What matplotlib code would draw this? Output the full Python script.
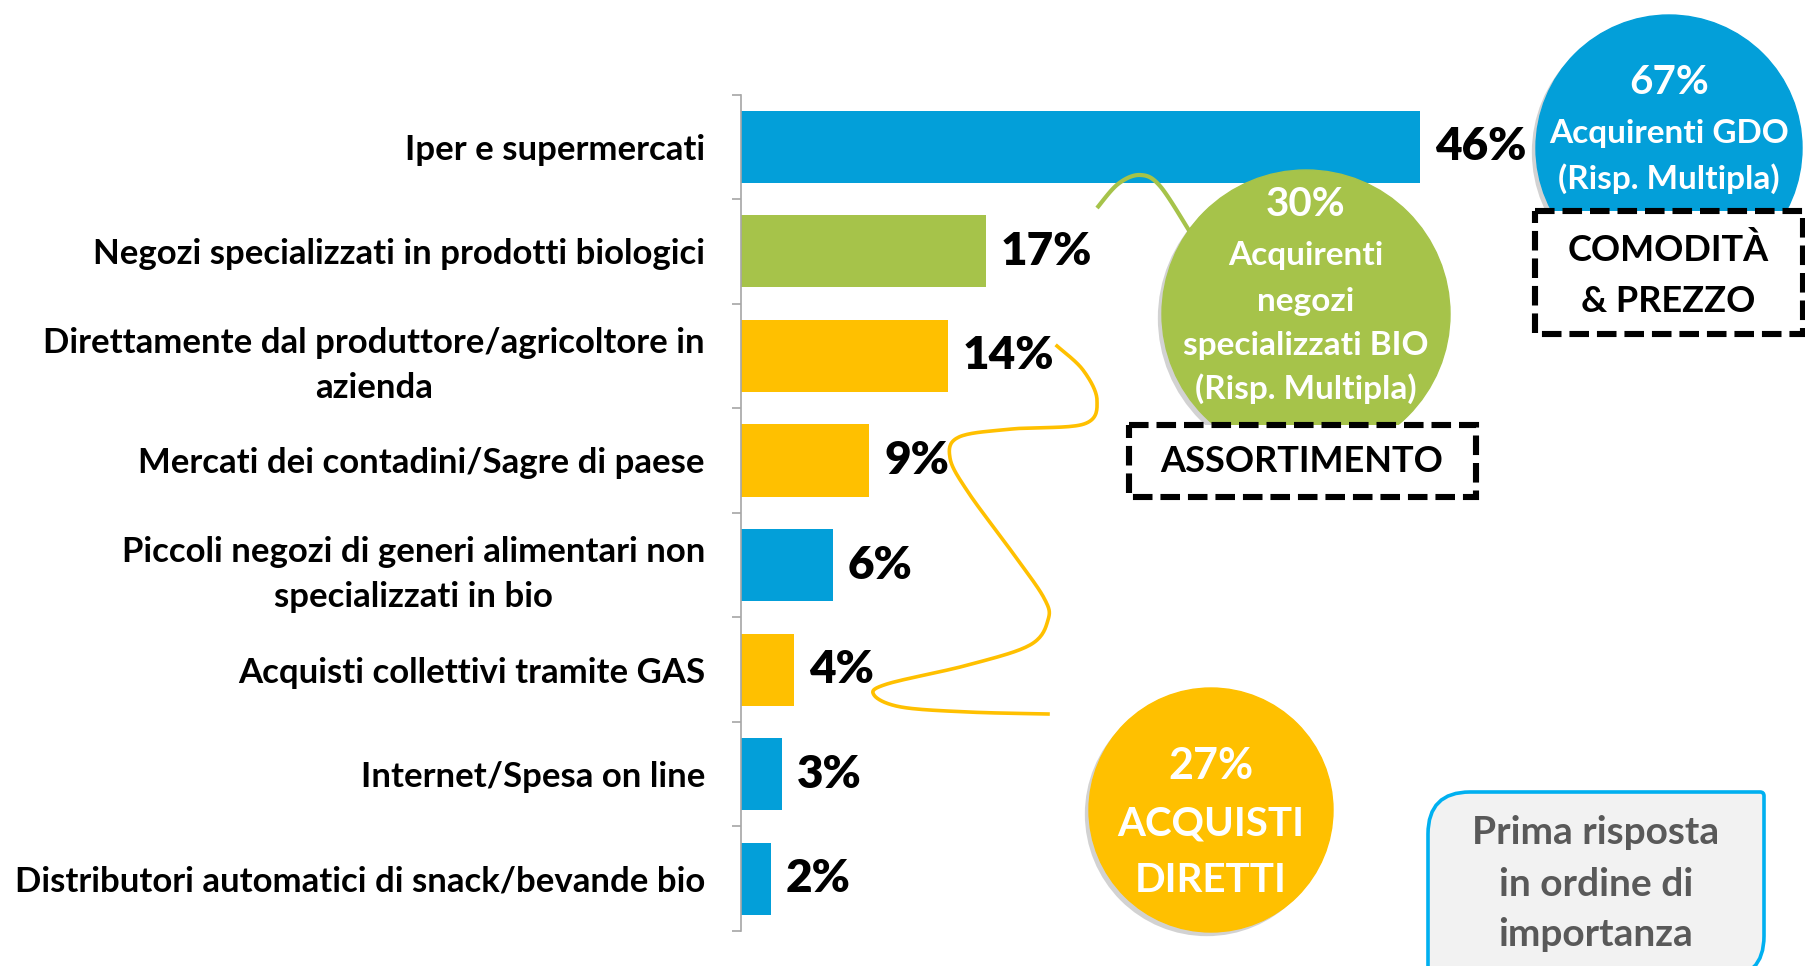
import matplotlib
matplotlib.use("Agg")
import matplotlib.pyplot as plt
import matplotlib.patheffects as pe
from matplotlib.patches import Circle, Rectangle, PathPatch
from matplotlib.path import Path
import numpy as np

# ===================
# DATA
# ===================
categories = [
    "Iper e supermercati",
    "Negozi specializzati in prodotti biologici",
    "Direttamente dal produttore/agricoltore in\nazienda",
    "Mercati dei contadini/Sagre di paese",
    "Piccoli negozi di generi alimentari non\nspecializzati in bio",
    "Acquisti collettivi tramite GAS",
    "Internet/Spesa on line",
    "Distributori automatici di snack/bevande bio",
]
values = [46, 16.6, 14, 8.7, 6.2, 3.6, 2.8, 2.0]
value_labels = ["46%", "17%", "14%", "9%", "6%", "4%", "3%", "2%"]
groups = ["gdo", "bio", "diretti", "diretti", "gdo", "diretti", "gdo", "gdo"]

# ===================
# CONFIG
# ===================
W, H = 1806, 966
DPI = 100
FONT = "Lato"
COLOURS = {"gdo": "#039FD9", "bio": "#A6C34A", "diretti": "#FFC000"}

plt.rcParams["font.family"] = [FONT, "DejaVu Sans"]
plt.rcParams["font.weight"] = "bold"


def smooth(pts, n=20):
    # catmull-rom through the given pixel points
    pts = np.asarray(pts, float)
    p = np.vstack([pts[0], pts, pts[-1]])
    out = []
    for i in range(1, len(p) - 2):
        p0, p1, p2, p3 = p[i - 1], p[i], p[i + 1], p[i + 2]
        t = np.linspace(0, 1, n)[:, None]
        seg = 0.5 * ((2 * p1) + (-p0 + p2) * t + (2 * p0 - 5 * p1 + 4 * p2 - p3) * t ** 2
                     + (-p0 + 3 * p1 - 3 * p2 + p3) * t ** 3)
        out.append(seg)
    return np.vstack(out)


fig = plt.figure(figsize=(W / DPI, H / DPI), dpi=DPI)

# ----- bar chart -----
ax_left, ax_top, ax_bottom = 741, 94.5, 931
px_per_unit = (1420 - ax_left) / 46.0
ax = fig.add_axes([ax_left / W, (H - ax_bottom) / H, (W - ax_left) / W, (ax_bottom - ax_top) / H])
ypos = np.arange(len(categories))
ax.barh(ypos, values, height=0.69, color=[COLOURS[g] for g in groups], zorder=2)
ax.set_xlim(0, (W - ax_left) / px_per_unit)
ax.set_ylim(len(categories) - 0.5, -0.5)

for y, v, lab in zip(ypos, values, value_labels):
    ax.text(v + 15 / px_per_unit, y, lab, ha="left", va="center", fontsize=33,
            fontweight="heavy", color="black")

for s in ["top", "right", "bottom"]:
    ax.spines[s].set_visible(False)
ax.spines["left"].set_color("#A6A6A6")
ax.spines["left"].set_linewidth(1.2)
ax.set_xticks([])
ax.set_yticks(ypos)
ax.set_yticklabels(categories, fontsize=25, fontweight="bold")
ax.set_yticks(np.arange(-0.5, len(categories)), minor=True)
ax.tick_params(axis="y", which="major", length=0, pad=26)
ax.tick_params(axis="y", which="minor", length=6.5, width=1.2, color="#A6A6A6", direction="out")
for lbl in ax.get_yticklabels():
    lbl.set_multialignment("center")
    lbl.set_linespacing(1.5)
ax.patch.set_alpha(0)

# ----- overlay in pixel coordinates -----
ov = fig.add_axes([0, 0, 1, 1], zorder=5)
ov.set_xlim(0, W)
ov.set_ylim(H, 0)
ov.axis("off")
ov.patch.set_alpha(0)

shadow = [pe.SimplePatchShadow(offset=(-3, -3), shadow_rgbFace="#808080", alpha=0.35), pe.Normal()]

# green connector + circle
g = smooth([(1097, 208), (1118, 184), (1140, 175), (1160, 186), (1190, 232)])
ov.plot(g[:, 0], g[:, 1], color=COLOURS["bio"], lw=3, zorder=2, solid_capstyle="butt")
c = Circle((1306, 314), 144, color=COLOURS["bio"], zorder=3)
c.set_path_effects(shadow)
ov.add_patch(c)
green_lines = [("30%", 205), ("Acquirenti", 256), ("negozi", 301),
               ("specializzati BIO", 346), ("(Risp. Multipla)", 389)]
for t, y in green_lines:
    ov.text(1306, y, t, ha="center", va="center", color="white", fontsize=29 if "%" in t else 24,
            fontweight="bold", zorder=4)

# blue circle
c = Circle((1669, 148), 133, color=COLOURS["gdo"], zorder=3)
c.set_path_effects(shadow)
ov.add_patch(c)
for t, y in [("67%", 83), ("Acquirenti GDO", 134), ("(Risp. Multipla)", 179)]:
    ov.text(1669, y, t, ha="center", va="center", color="white", fontsize=29 if "%" in t else 24,
            fontweight="bold", zorder=4)

# dashed boxes
dash = (0, (3.2, 1.3))
ov.add_patch(Rectangle((1535, 211), 268, 123, facecolor="white", edgecolor="black",
                       lw=4.4, linestyle=dash, zorder=6))
ov.text(1668, 250, "COMODITÀ", ha="center", va="center", fontsize=26, fontweight="bold", zorder=7)
ov.text(1668, 301, "& PREZZO", ha="center", va="center", fontsize=26, fontweight="bold", zorder=7)
ov.add_patch(Rectangle((1129, 425), 347, 72, facecolor="white", edgecolor="black",
                       lw=4.4, linestyle=dash, zorder=6))
ov.text(1302, 462, "ASSORTIMENTO", ha="center", va="center", fontsize=26, fontweight="bold", zorder=7)

# yellow connector + circle
ypts = [(1057, 346), (1083, 370), (1097, 400), (1084, 424), (1012, 429), (959, 437),
        (950, 458), (968, 492), (1012, 552), (1044, 598), (1048, 620), (1030, 645),
        (968, 665), (887, 684), (874, 695), (901, 707), (968, 712), (1048, 714)]
yc = smooth(ypts)
ov.plot(yc[:, 0], yc[:, 1], color=COLOURS["diretti"], lw=2.6, zorder=2)
c = Circle((1211, 810), 122, color=COLOURS["diretti"], zorder=3)
c.set_path_effects(shadow)
ov.add_patch(c)
ov.text(1211, 766, "27%", ha="center", va="center", color="white", fontsize=31, fontweight="bold", zorder=4)
ov.text(1211, 824, "ACQUISTI", ha="center", va="center", color="white", fontsize=29, fontweight="bold", zorder=4)
ov.text(1211, 881, "DIRETTI", ha="center", va="center", color="white", fontsize=29, fontweight="bold", zorder=4)

# "Prima risposta" box: rounded top-left and bottom-right
x0, x1, y0, y1, r = 1428, 1764, 792, 978, 42
verts = [(x0, 1010), (x0, y0 + r), (x0, y0), (x0 + r, y0), (x1 - 4, y0), (x1, y0), (x1, y0 + 4),
         (x1, y1 - r), (x1, y1), (x1 - r, y1), (x0 - 10, y1), (x0, 1010)]
codes = [Path.MOVETO, Path.LINETO, Path.CURVE3, Path.CURVE3, Path.LINETO, Path.CURVE3, Path.CURVE3,
         Path.LINETO, Path.CURVE3, Path.CURVE3, Path.LINETO, Path.CLOSEPOLY]
ov.add_patch(PathPatch(Path(verts, codes), facecolor="#F2F2F2", edgecolor="#00B0F0", lw=2.6, zorder=6))
for t, y in [("Prima risposta", 832), ("in ordine di", 884), ("importanza", 934)]:
    ov.text(1596, y, t, ha="center", va="center", color="#595959", fontsize=28,
            fontweight="bold", zorder=7)

fig.savefig("out.png", dpi=DPI)
